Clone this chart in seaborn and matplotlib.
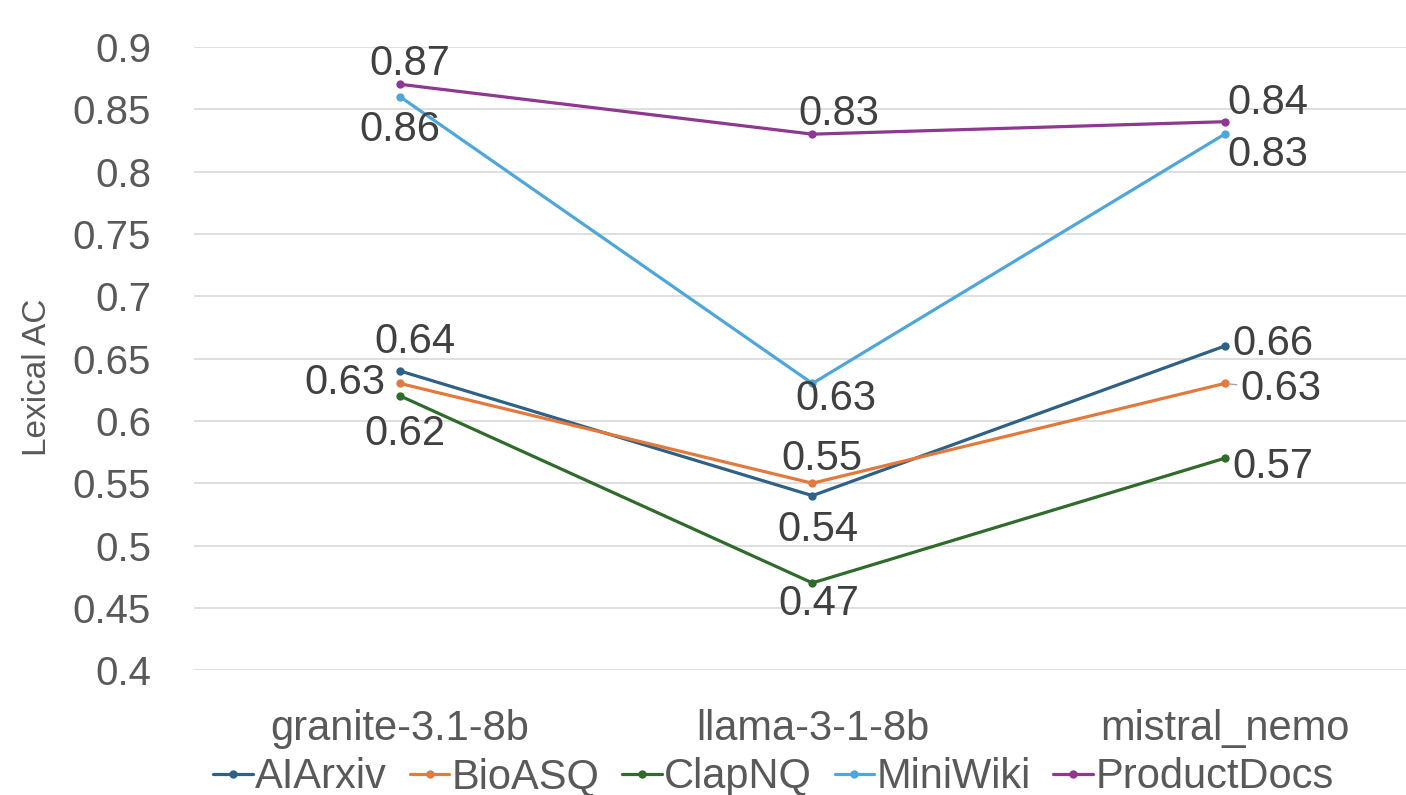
import pandas as pd
import seaborn as sns
import matplotlib.pyplot as plt

# chart data
models = ["granite-3.1-8b", "llama-3-1-8b", "mistral_nemo"]
series_names = ["AIArxiv", "BioASQ", "ClapNQ", "MiniWiki", "ProductDocs"]
aiarxiv = [0.64, 0.54, 0.66]
bioasq = [0.63, 0.55, 0.63]
clapnq = [0.62, 0.47, 0.57]
miniwiki = [0.86, 0.63, 0.83]
productdocs = [0.87, 0.83, 0.84]
y_ticks = [0.4, 0.45, 0.5, 0.55, 0.6, 0.65, 0.7, 0.75, 0.8, 0.85, 0.9]

values = [aiarxiv, bioasq, clapnq, miniwiki, productdocs]
colors = ["#2E6185", "#E2793D", "#2F6B2A", "#4EA6DA", "#8E3892"]

# where each data label sits relative to its point (pixels)
label_offsets = {
    "AIArxiv": [(15, 29), (6, -34), (48, 2)],
    "BioASQ": [(-55, 0), (10, 24), (56, -6)],
    "ClapNQ": [(5, -38), (6, -21), (48, -9)],
    "MiniWiki": [(0, -33), (23, -16), (43, -21)],
    "ProductDocs": [(10, 20), (26, 20), (43, 19)],
}

rows = []
for name, vals in zip(series_names, values):
    for model, v in zip(models, vals):
        rows.append({"model": model, "series": name, "value": v})
df = pd.DataFrame(rows)
df["x"] = df["model"].map({m: i for i, m in enumerate(models)})

sns.set_theme(style="white")
plt.rcParams["font.family"] = ["Liberation Sans", "DejaVu Sans"]

fig = plt.figure(figsize=(14.06, 7.95), dpi=100)
ax = fig.add_axes([0.138, 0.157, 0.862, 0.784])

sns.lineplot(
    data=df, x="x", y="value", hue="series", hue_order=series_names,
    palette=colors, marker="o", markersize=6, markeredgewidth=0,
    linewidth=2.3, ax=ax,
)

for name, vals in zip(series_names, values):
    for i, v in enumerate(vals):
        dx, dy = label_offsets[name][i]
        kw = {}
        if name == "BioASQ" and i == 2:
            kw["arrowprops"] = dict(arrowstyle="-", color="#A6A6A6", lw=1,
                                    shrinkA=22, shrinkB=3)
        ax.annotate(f"{v:.2f}", (i, v), xytext=(dx, dy), textcoords="offset pixels",
                    ha="center", va="center", fontsize=30, color="#404040",
                    annotation_clip=False, **kw)

ax.set_xlim(-0.5, 2.44)
ax.set_ylim(0.4, 0.9)
ax.set_yticks(y_ticks)
ax.set_yticklabels([f"{t:g}" for t in y_ticks])
ax.set_xticks(range(len(models)))
ax.set_xticklabels(models)
ax.tick_params(axis="both", labelsize=29, colors="#595959", length=0)
ax.tick_params(axis="x", labelsize=30, pad=28)
ax.tick_params(axis="y", pad=31)
ax.grid(axis="y", color="#D9D9D9", linewidth=1.2)
for s in ax.spines.values():
    s.set_visible(False)
ax.set_xlabel("")
ax.set_ylabel("Lexical AC", fontsize=24, color="#595959")
ax.yaxis.set_label_coords(-0.116, 0.47)

ax.legend(loc="center", bbox_to_anchor=(0.478, -0.172), ncol=5, frameon=False,
          fontsize=30, handlelength=0.95, handletextpad=0.05, columnspacing=0.55,
          labelcolor="#595959")

fig.savefig("out.png", dpi=100)
